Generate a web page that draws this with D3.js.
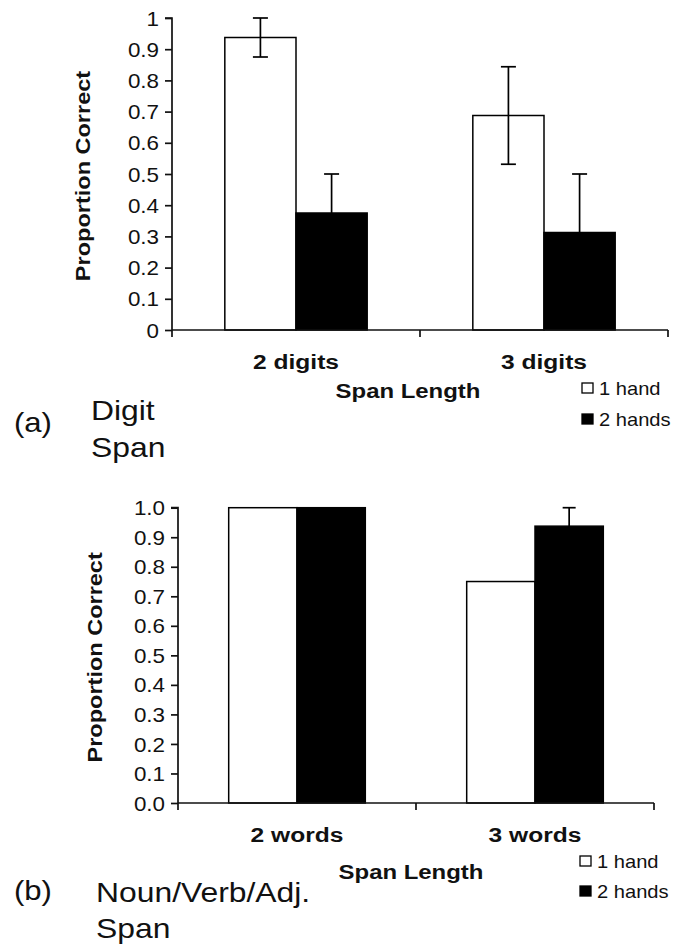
<!DOCTYPE html>
<html>
<head>
<meta charset="utf-8">
<script src="https://cdn.jsdelivr.net/npm/d3@7"></script>
<style>
  html, body { margin: 0; padding: 0; background: #fff; }
  svg { display: block; }
  text { font-family: "Liberation Sans", Arial, Helvetica, sans-serif; fill: #111; }
</style>
</head>
<body>
<svg id="chart" width="680" height="948"></svg>
<script>
// ---------- data ----------
const seriesNames = ["1 hand", "2 hands"];

const digitCategories = ["2 digits", "3 digits"];
const digitOneHand = [0.9375, 0.6875];
const digitTwoHands = [0.375, 0.3125];
const digitOneHandErr = [0.0625, 0.15625];
const digitTwoHandsErr = [0.125, 0.1875];

const wordCategories = ["2 words", "3 words"];
const wordOneHand = [1.0, 0.75];
const wordTwoHands = [1.0, 0.9375];
const wordOneHandErr = [0, 0];
const wordTwoHandsErr = [0, 0.0625];

const tickValues = [0, 0.1, 0.2, 0.3, 0.4, 0.5, 0.6, 0.7, 0.8, 0.9, 1];
const digitTickLabels = ["0", "0.1", "0.2", "0.3", "0.4", "0.5", "0.6", "0.7", "0.8", "0.9", "1"];
const wordTickLabels = ["0.0", "0.1", "0.2", "0.3", "0.4", "0.5", "0.6", "0.7", "0.8", "0.9", "1.0"];

const yTitle = "Proportion Correct";
const xTitle = "Span Length";

// ---------- drawing ----------
const svg = d3.select("#chart");
const seriesFill = ["#ffffff", "#000000"];

function stretched(g, x, y, str, size, weight, anchor, sx, rotate) {
  return g.append("text")
    .attr("transform", `translate(${x},${y})` + (rotate ? ` rotate(${rotate})` : "") + ` scale(${sx},1)`)
    .attr("text-anchor", anchor || "start")
    .style("font-size", size + "px")
    .style("font-weight", weight || "normal")
    .text(str);
}

function drawPanel(opt) {
  const g = svg.append("g");
  const y = d3.scaleLinear().domain([0, 1]).range([opt.yBottom, opt.yTop]);
  const p = 0.426;
  const x0 = d3.scaleBand().domain(opt.categories).range([opt.xLeft, opt.xRight])
    .paddingInner(p).paddingOuter(p / 2);
  const x1 = d3.scaleBand().domain(seriesNames).range([0, x0.bandwidth()]);

  const rows = opt.categories.map((c, i) => ({
    cat: c,
    vals: seriesNames.map((s, j) => ({
      series: s, j,
      v: opt.values[j][i],
      e: opt.errors[j][i]
    }))
  }));

  // bars
  const grp = g.selectAll("g.cat").data(rows).join("g")
    .attr("transform", d => `translate(${x0(d.cat)},0)`);
  grp.selectAll("rect").data(d => d.vals).join("rect")
    .attr("x", d => x1(d.series))
    .attr("width", x1.bandwidth())
    .attr("y", d => y(d.v))
    .attr("height", d => y(0) - y(d.v))
    .attr("fill", d => seriesFill[d.j])
    .attr("stroke", "#000")
    .attr("stroke-width", 1.5);

  // error bars (black, so the part over a black bar disappears as in the source)
  const cap = opt.cap;
  const cx = d => x1(d.series) + x1.bandwidth() / 2;
  const eb = grp.selectAll("g.err").data(d => d.vals.filter(v => v.e > 0)).join("g")
    .attr("stroke", "#000").attr("stroke-width", 1.7);
  eb.append("line")
    .attr("x1", cx).attr("x2", cx)
    .attr("y1", d => y(d.v - d.e)).attr("y2", d => y(d.v + d.e));
  eb.append("line")
    .attr("x1", d => cx(d) - cap).attr("x2", d => cx(d) + cap)
    .attr("y1", d => y(d.v + d.e)).attr("y2", d => y(d.v + d.e));
  eb.append("line")
    .attr("x1", d => cx(d) - cap).attr("x2", d => cx(d) + cap)
    .attr("y1", d => y(d.v - d.e)).attr("y2", d => y(d.v - d.e));

  // y axis
  const yAxis = g.append("g").attr("transform", `translate(${opt.xLeft},0)`)
    .call(d3.axisLeft(y).tickValues(tickValues)
      .tickFormat((d, i) => opt.tickLabels[i]).tickSize(7).tickPadding(10));
  yAxis.attr("font-family", null).attr("font-size", null);
  yAxis.select(".domain").attr("stroke", "#111").attr("stroke-width", 1.7)
    .attr("d", `M-7,${y(1)}H0V${y(0) + 7}`);
  yAxis.selectAll(".tick line").attr("stroke", "#111").attr("stroke-width", 1.7);
  yAxis.selectAll(".tick text")
    .attr("x", null).attr("dy", null)
    .attr("transform", `translate(${-opt.labelGap},0) scale(1.12,1)`)
    .attr("dominant-baseline", "central")
    .style("font-size", "20px").attr("fill", "#111");

  // x axis (category boundaries)
  const xa = g.append("g").attr("stroke", "#111").attr("stroke-width", 1.7);
  xa.append("line").attr("x1", opt.xLeft).attr("x2", opt.xRight)
    .attr("y1", y(0)).attr("y2", y(0));
  const bounds = d3.range(opt.categories.length + 1).map(i => opt.xLeft + i * x0.step());
  xa.selectAll("line.t").data(bounds.slice(1)).join("line")
    .attr("x1", d => d).attr("x2", d => d)
    .attr("y1", y(0)).attr("y2", y(0) + 7);

  // category labels
  opt.categories.forEach(c => {
    stretched(g, x0(c) + x0.bandwidth() / 2, y(0) + 39, c, 21, "bold", "middle", 1.17);
  });

  // axis titles
  stretched(g, opt.yTitleX, (opt.yTop + opt.yBottom) / 2 + 2, yTitle, 21, "bold", "middle", 1.12, -90);
  stretched(g, opt.xTitleX, y(0) + opt.xTitleDy, xTitle, 21, "bold", "middle", 1.14);

  // legend
  const lg = g.append("g");
  seriesNames.forEach((s, j) => {
    const top = y(0) + opt.legendDy + j * opt.legendStep;
    lg.append("rect").attr("x", opt.legendX).attr("y", top)
      .attr("width", 11).attr("height", 10)
      .attr("fill", seriesFill[j]).attr("stroke", "#000").attr("stroke-width", 1.3);
    stretched(lg, opt.legendX + 17, top + 12, s, 17.5, "normal", "start", 1.15);
  });

  // panel caption
  stretched(g, 14, opt.capLetterY, opt.letter, 27, "normal", "start", 1.15);
  opt.captionLines.forEach((t, k) => {
    stretched(g, opt.captionX, opt.captionY + k * opt.captionStep, t, 27, "normal", "start", 1.18);
  });
}

drawPanel({
  categories: digitCategories,
  values: [digitOneHand, digitTwoHands],
  errors: [digitOneHandErr, digitTwoHandsErr],
  tickLabels: digitTickLabels,
  xLeft: 172, xRight: 668, yTop: 18, yBottom: 330,
  cap: 7.5, labelGap: 13,
  yTitleX: 90, xTitleX: 408, xTitleDy: 68,
  legendX: 582, legendDy: 53, legendStep: 31,
  letter: "(a)", capLetterY: 432,
  captionLines: ["Digit", "Span"], captionX: 91, captionY: 420, captionStep: 37
});

drawPanel({
  categories: wordCategories,
  values: [wordOneHand, wordTwoHands],
  errors: [wordOneHandErr, wordTwoHandsErr],
  tickLabels: wordTickLabels,
  xLeft: 178, xRight: 654, yTop: 507.7, yBottom: 803,
  cap: 6.5, labelGap: 13,
  yTitleX: 102, xTitleX: 411, xTitleDy: 76,
  legendX: 580, legendDy: 53, legendStep: 30,
  letter: "(b)", capLetterY: 900,
  captionLines: ["Noun/Verb/Adj.", "Span"], captionX: 96, captionY: 902, captionStep: 36
});
</script>
</body>
</html>
